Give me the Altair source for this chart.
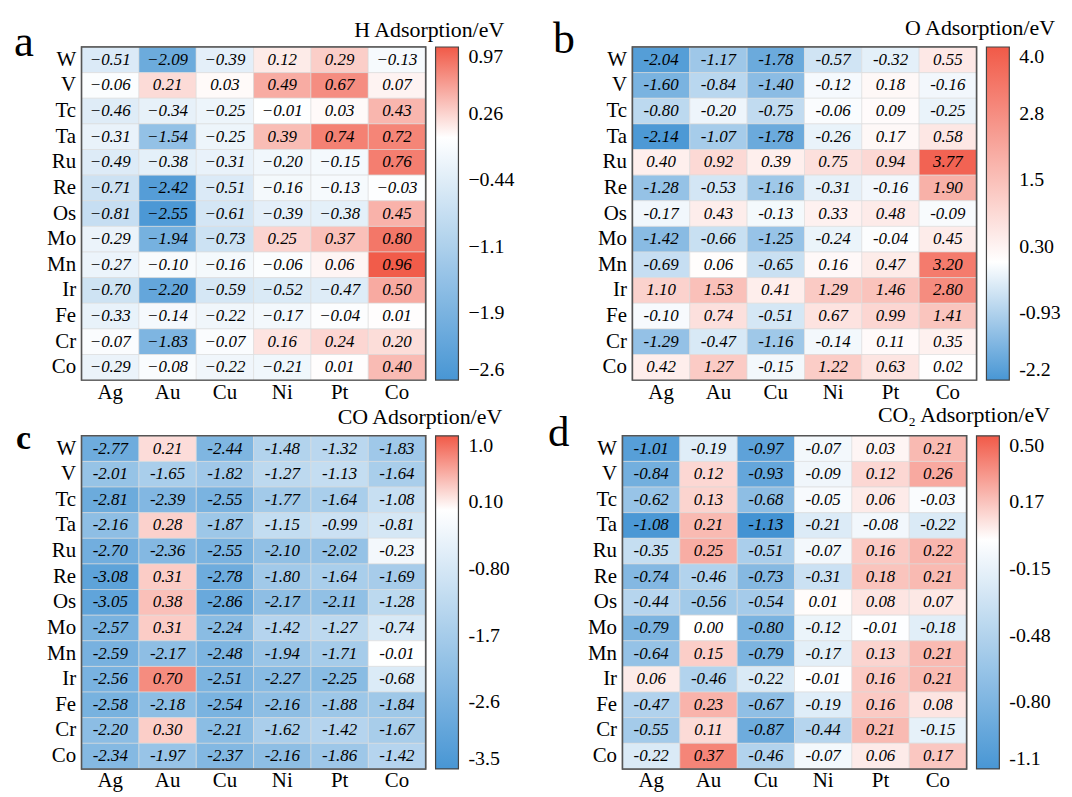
import altair as alt
import pandas as pd

hosts = ["W", "V", "Tc", "Ta", "Ru", "Re", "Os", "Mo", "Mn", "Ir", "Fe", "Cr", "Co"]
metals = ["Ag", "Au", "Cu", "Ni", "Pt", "Co"]

h_vals = [
    [-0.51, -2.09, -0.39, 0.12, 0.29, -0.13],
    [-0.06, 0.21, 0.03, 0.49, 0.67, 0.07],
    [-0.46, -0.34, -0.25, -0.01, 0.03, 0.43],
    [-0.31, -1.54, -0.25, 0.39, 0.74, 0.72],
    [-0.49, -0.38, -0.31, -0.20, -0.15, 0.76],
    [-0.71, -2.42, -0.51, -0.16, -0.13, -0.03],
    [-0.81, -2.55, -0.61, -0.39, -0.38, 0.45],
    [-0.29, -1.94, -0.73, 0.25, 0.37, 0.80],
    [-0.27, -0.10, -0.16, -0.06, 0.06, 0.96],
    [-0.70, -2.20, -0.59, -0.52, -0.47, 0.50],
    [-0.33, -0.14, -0.22, -0.17, -0.04, 0.01],
    [-0.07, -1.83, -0.07, 0.16, 0.24, 0.20],
    [-0.29, -0.08, -0.22, -0.21, 0.01, 0.40],
]

o_vals = [
    [-2.04, -1.17, -1.78, -0.57, -0.32, 0.55],
    [-1.60, -0.84, -1.40, -0.12, 0.18, -0.16],
    [-0.80, -0.20, -0.75, -0.06, 0.09, -0.25],
    [-2.14, -1.07, -1.78, -0.26, 0.17, 0.58],
    [0.40, 0.92, 0.39, 0.75, 0.94, 3.77],
    [-1.28, -0.53, -1.16, -0.31, -0.16, 1.90],
    [-0.17, 0.43, -0.13, 0.33, 0.48, -0.09],
    [-1.42, -0.66, -1.25, -0.24, -0.04, 0.45],
    [-0.69, 0.06, -0.65, 0.16, 0.47, 3.20],
    [1.10, 1.53, 0.41, 1.29, 1.46, 2.80],
    [-0.10, 0.74, -0.51, 0.67, 0.99, 1.41],
    [-1.29, -0.47, -1.16, -0.14, 0.11, 0.35],
    [0.42, 1.27, -0.15, 1.22, 0.63, 0.02],
]

co_vals = [
    [-2.77, 0.21, -2.44, -1.48, -1.32, -1.83],
    [-2.01, -1.65, -1.82, -1.27, -1.13, -1.64],
    [-2.81, -2.39, -2.55, -1.77, -1.64, -1.08],
    [-2.16, 0.28, -1.87, -1.15, -0.99, -0.81],
    [-2.70, -2.36, -2.55, -2.10, -2.02, -0.23],
    [-3.08, 0.31, -2.78, -1.80, -1.64, -1.69],
    [-3.05, 0.38, -2.86, -2.17, -2.11, -1.28],
    [-2.57, 0.31, -2.24, -1.42, -1.27, -0.74],
    [-2.59, -2.17, -2.48, -1.94, -1.71, -0.01],
    [-2.56, 0.70, -2.51, -2.27, -2.25, -0.68],
    [-2.58, -2.18, -2.54, -2.16, -1.88, -1.84],
    [-2.20, 0.30, -2.21, -1.62, -1.42, -1.67],
    [-2.34, -1.97, -2.37, -2.16, -1.86, -1.42],
]

co2_vals = [
    [-1.01, -0.19, -0.97, -0.07, 0.03, 0.21],
    [-0.84, 0.12, -0.93, -0.09, 0.12, 0.26],
    [-0.62, 0.13, -0.68, -0.05, 0.06, -0.03],
    [-1.08, 0.21, -1.13, -0.21, -0.08, -0.22],
    [-0.35, 0.25, -0.51, -0.07, 0.16, 0.22],
    [-0.74, -0.46, -0.73, -0.31, 0.18, 0.21],
    [-0.44, -0.56, -0.54, 0.01, 0.08, 0.07],
    [-0.79, 0.00, -0.80, -0.12, -0.01, -0.18],
    [-0.64, 0.15, -0.79, -0.17, 0.13, 0.21],
    [0.06, -0.46, -0.22, -0.01, 0.16, 0.21],
    [-0.47, 0.23, -0.67, -0.19, 0.16, 0.08],
    [-0.55, 0.11, -0.87, -0.44, 0.21, -0.15],
    [-0.22, 0.37, -0.46, -0.07, 0.06, 0.17],
]

# colorbar extents and tick marks (position on the scale, printed text)
h_range = [-2.6, 0.97]
h_tick_pos = [0.97, 0.256, -0.458, -1.172, -1.886, -2.6]
h_tick_txt = ["0.97", "0.26", "\u22120.44", "\u22121.1", "\u22121.9", "\u22122.6"]

o_range = [-2.2, 4.0]
o_tick_pos = [4.0, 2.76, 1.52, 0.28, -0.96, -2.2]
o_tick_txt = ["4.0", "2.8", "1.5", "0.30", "-0.93", "-2.2"]

co_range = [-3.5, 1.0]
co_tick_pos = [1.0, 0.1, -0.8, -1.7, -2.6, -3.5]
co_tick_txt = ["1.0", "0.10", "-0.80", "-1.7", "-2.6", "-3.5"]

co2_range = [-1.1, 0.5]
co2_tick_pos = [0.5, 0.18, -0.14, -0.46, -0.78, -1.1]
co2_tick_txt = ["0.50", "0.17", "-0.15", "-0.48", "-0.80", "-1.1"]

BLUE = "#4896d4"
WHITE = "#ffffff"
RED = "#f15a48"
FONT = "Liberation Serif"
W = 346
H = 335


def panel(vals, unicode_minus, rng, tick_pos, tick_txt, title, letter,
          letter_xy, letter_size, letter_weight, title_xy):
    rows = []
    for i, hst in enumerate(hosts):
        for j, m in enumerate(metals):
            v = vals[i][j]
            s = f"{v:.2f}"
            if unicode_minus:
                s = s.replace("-", "\u2212")
            rows.append({"host": hst, "metal": m, "value": v, "label": s})
    df = pd.DataFrame(rows)

    expr = ""
    for p, t in zip(tick_pos, tick_txt):
        expr += f"abs(datum.value - ({p})) < 0.0001 ? '{t}' : "
    expr += "''"

    base = alt.Chart(df).encode(
        x=alt.X("metal:N", sort=metals, title=None,
                axis=alt.Axis(orient="bottom", labelAngle=0, ticks=False, domain=False,
                              labelFont=FONT, labelFontSize=21, labelColor="black",
                              labelPadding=1, grid=False)),
        y=alt.Y("host:N", sort=hosts, title=None,
                axis=alt.Axis(ticks=False, domain=False, labelFont=FONT,
                              labelFontSize=21, labelColor="black", labelPadding=6,
                              grid=False)),
    )
    rect = base.mark_rect(stroke="#dcdcdc", strokeWidth=0.6).encode(
        color=alt.Color(
            "value:Q",
            scale=alt.Scale(domain=rng, domainMid=0, range=[BLUE, WHITE, RED],
                            interpolate="rgb"),
            legend=alt.Legend(
                title=None, values=tick_pos, labelExpr=expr, orient="right",
                direction="vertical", gradientLength=H, gradientThickness=23,
                offset=10, padding=0, labelOffset=10, labelFont=FONT,
                labelFontSize=20, labelColor="black", labelOverlap=False,
                gradientStrokeColor="#444", gradientStrokeWidth=1.2,
                labelAlign="center", labelBaseline="middle",
            ),
        )
    )
    txt = base.mark_text(font=FONT, fontSize=17, fontStyle="italic",
                         color="black").encode(text="label:N")
    one = pd.DataFrame({"t": [letter]})
    frame = alt.Chart(one).mark_rect(filled=False, stroke="#555555",
                                     strokeWidth=1.5).encode(
        x=alt.value(0), x2=alt.value(W), y=alt.value(0), y2=alt.value(H))
    let = alt.Chart(one).mark_text(
        font=FONT, fontSize=letter_size, fontWeight=letter_weight, align="left",
        baseline="alphabetic", color="black"
    ).encode(text="t:N", x=alt.value(letter_xy[0]), y=alt.value(letter_xy[1]))
    ttl = alt.Chart(pd.DataFrame({"t": [title]})).mark_text(
        font=FONT, fontSize=22, align="right", baseline="alphabetic", color="black"
    ).encode(text="t:N", x=alt.value(title_xy[0]), y=alt.value(title_xy[1]))
    return alt.layer(rect, txt, frame, let, ttl).properties(width=W, height=H)


pa = panel(h_vals, True, h_range, h_tick_pos, h_tick_txt, "H Adsorption/eV", "a",
           (-68, 9), 45, "normal", (425, -10))
pb = panel(o_vals, False, o_range, o_tick_pos, o_tick_txt, "O Adsorption/eV", "b",
           (-80, 6), 44, "normal", (425, -12))
pc = panel(co_vals, False, co_range, co_tick_pos, co_tick_txt, "CO Adsorption/eV", "c",
           (-66, 13), 34, "bold", (423, -12))
pd_ = panel(co2_vals, False, co2_range, co2_tick_pos, co2_tick_txt,
            "CO\u2082 Adsorption/eV", "d", (-75, 10), 43, "normal", (430, -14))

chart = alt.vconcat(
    alt.hconcat(pa, pb, spacing=36).resolve_scale(color="independent"),
    alt.hconcat(pc, pd_, spacing=36).resolve_scale(color="independent"),
    spacing=0,
).resolve_scale(color="independent").properties(
    padding={"left": 5, "top": 6, "right": 2, "bottom": 2},
    background="white",
).configure_view(stroke="#555555", strokeWidth=1.5)

chart.save("out.html", embed_options={"renderer": "svg", "actions": False})
